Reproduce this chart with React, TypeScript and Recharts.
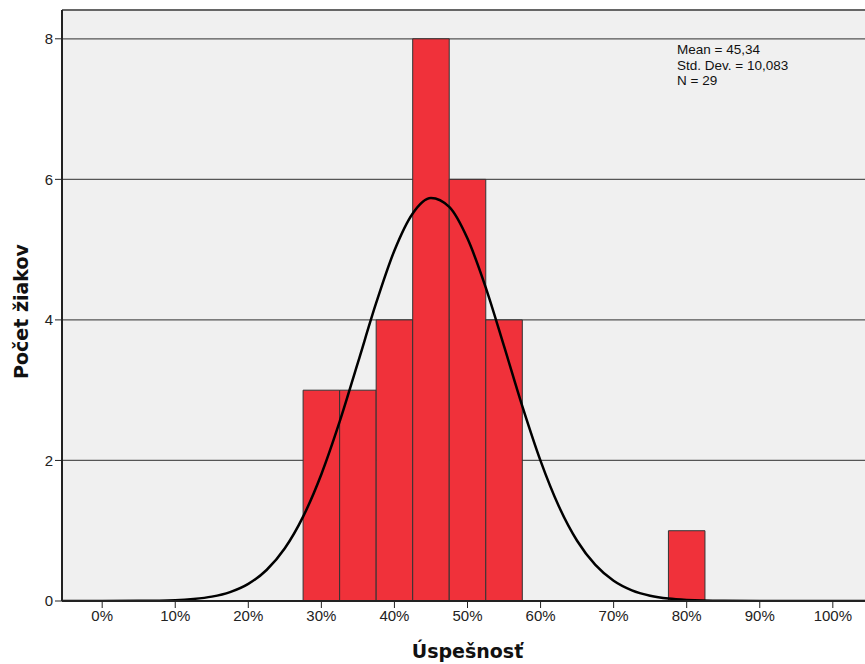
import {
  ComposedChart,
  Line,
  XAxis,
  YAxis,
  CartesianGrid,
  ReferenceArea,
  ReferenceLine,
} from "recharts";

// histogram bins (percent), 5% wide
const binStart = [27.5, 32.5, 37.5, 42.5, 47.5, 52.5, 77.5];
const binEnd = [32.5, 37.5, 42.5, 47.5, 52.5, 57.5, 82.5];
const binCount = [3, 3, 4, 8, 6, 4, 1];

// normal curve
const curveX = [
  -5.5, 0, 5, 10, 12.5, 15, 17.5, 20, 22.5, 25, 27.5, 30, 32.5, 35, 37.5, 40,
  42.5, 45, 47.5, 50, 52.5, 55, 57.5, 60, 62.5, 65, 67.5, 70, 72.5, 75, 77.5,
  80, 85, 90, 95, 100, 105.5,
];
const curveY = [
  0, 0, 0.002, 0.012, 0.029, 0.062, 0.127, 0.244, 0.441, 0.75, 1.2, 1.804,
  2.551, 3.392, 4.241, 4.988, 5.515, 5.735, 5.608, 5.157, 4.46, 3.626, 2.773,
  1.994, 1.348, 0.857, 0.513, 0.288, 0.152, 0.076, 0.035, 0.016, 0.0025, 0.0002,
  0, 0, 0,
];

const xTicks = [0, 10, 20, 30, 40, 50, 60, 70, 80, 90, 100];
const yTicks = [0, 2, 4, 6, 8];
const stats = ["Mean = 45,34", "Std. Dev. = 10,083", "N = 29"];

const Y_MAX = 8.41;
const tickFont = { fill: "#222", fontSize: 15, fontFamily: "'Liberation Sans', Arial, sans-serif" };

// y label, rotated, slightly below the axis middle like the original
const YLabel = ({ viewBox }: any) => {
  const cx = viewBox.x + 21;
  const cy = viewBox.y + viewBox.height / 2 + 6;
  return (
    <text
      x={cx}
      y={cy}
      transform={`rotate(-90, ${cx}, ${cy})`}
      textAnchor="middle"
      dominantBaseline="central"
      fontFamily="'DejaVu Sans', sans-serif"
      fontWeight="bold"
      fontSize={19}
      fill="#111"
    >
      Počet žiakov
    </text>
  );
};

export default function App() {
  const data = curveX.map((x, i) => ({ x, curve: curveY[i] }));

  return (
    <div
      style={{
        position: "fixed",
        left: 0,
        top: 0,
        width: 865,
        height: 664,
        overflow: "hidden",
        background: "#fff",
        fontFamily: "'Liberation Sans', Arial, sans-serif",
      }}
    >
      <ComposedChart
        width={880}
        height={664}
        data={data}
        margin={{ top: 10, right: 7, left: 0, bottom: 0 }}
      >
        <CartesianGrid
          vertical={false}
          fill="#f0f0f0"
          stroke="#555"
          strokeWidth={1.3}
          horizontalValues={[2, 4, 6, 8]}
        />

        <XAxis
          dataKey="x"
          type="number"
          domain={[-5.5, 105.5]}
          ticks={xTicks}
          allowDataOverflow
          height={63}
          tickFormatter={(v) => `${v}%`}
          tick={tickFont}
          tickSize={7}
          tickLine={{ stroke: "#222" }}
          axisLine={{ stroke: "#222", strokeWidth: 2 }}
          label={{
            value: "Úspešnosť",
            position: "insideBottom",
            offset: 6,
            fill: "#111",
            fontSize: 19,
            fontWeight: "bold",
            fontFamily: "'DejaVu Sans', sans-serif",
          }}
        />

        <YAxis
          type="number"
          domain={[0, Y_MAX]}
          ticks={yTicks}
          allowDataOverflow
          width={62}
          tick={tickFont}
          tickSize={7}
          tickLine={{ stroke: "#222" }}
          axisLine={{ stroke: "#222", strokeWidth: 2 }}
          label={<YLabel />}
        />

        <ReferenceLine y={Y_MAX} stroke="#666" strokeWidth={2} />

        {binCount.map((c, i) => (
          <ReferenceArea
            key={i}
            x1={binStart[i]}
            x2={binEnd[i]}
            y1={0}
            y2={c}
            fill="#f0313a"
            fillOpacity={1}
            stroke="#333"
            strokeWidth={1}
          />
        ))}

        <Line
          type="monotone"
          dataKey="curve"
          stroke="#000"
          strokeWidth={2.5}
          dot={false}
          activeDot={false}
          isAnimationActive={false}
        />
      </ComposedChart>

      <div
        style={{
          position: "absolute",
          left: 677,
          top: 42,
          fontSize: 13.5,
          lineHeight: "15.5px",
          color: "#111",
        }}
      >
        {stats.map((s) => (
          <div key={s}>{s}</div>
        ))}
      </div>
    </div>
  );
}
